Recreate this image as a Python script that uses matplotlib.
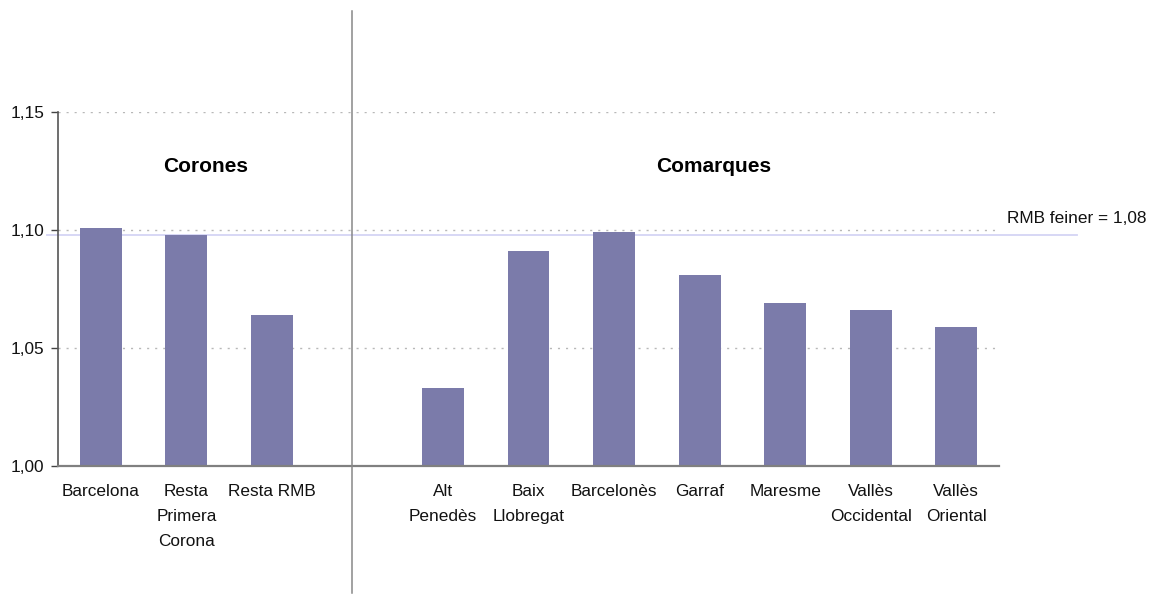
import matplotlib
matplotlib.use("Agg")
import matplotlib.pyplot as plt
import matplotlib.transforms as mtransforms
from matplotlib.lines import Line2D

plt.rcParams['font.family'] = ['Liberation Sans', 'DejaVu Sans']

# data
corones = ["Barcelona", "Resta\nPrimera\nCorona", "Resta RMB"]
corones_vals = [1.101, 1.098, 1.064]
comarques = ["Alt\nPenedès", "Baix\nLlobregat", "Barcelonès", "Garraf",
             "Maresme", "Vallès\nOccidental", "Vallès\nOriental"]
comarques_vals = [1.033, 1.091, 1.099, 1.081, 1.069, 1.066, 1.059]
rmb_value = 1.098
rmb_label = "RMB feiner = 1,08"
yticks = [1.00, 1.05, 1.10, 1.15]

bar_color = "#7b7baa"

# one empty slot between the two groups
x_cor = list(range(len(corones)))
x_com = [len(corones) + 1 + i for i in range(len(comarques))]

fig = plt.figure(figsize=(11.63, 5.96), dpi=100)
ax = fig.add_axes([0.0499, 0.2186, 0.8091, 0.593])

ax.bar(x_cor, corones_vals, width=0.49, color=bar_color, zorder=3)
ax.bar(x_com, comarques_vals, width=0.49, color=bar_color, zorder=3)

ax.set_xlim(-0.5, x_com[-1] + 0.5)
ax.set_ylim(1.00, 1.15)
ax.set_yticks(yticks)
ax.set_yticklabels([f"{t:.2f}".replace(".", ",") for t in yticks])
ax.set_xticks(x_cor + x_com)
ax.set_xticklabels(corones + comarques, linespacing=1.85, va="top")

ax.tick_params(axis="x", length=0, pad=13, labelsize=12.4, colors="#111111")
ax.tick_params(axis="y", length=5, width=1, pad=5, labelsize=12.4,
               color="#444444", labelcolor="#111111")

for s in ["top", "right"]:
    ax.spines[s].set_visible(False)
ax.spines["left"].set_color("#555555")
ax.spines["left"].set_linewidth(1.2)
ax.spines["bottom"].set_color("#808080")
ax.spines["bottom"].set_linewidth(1.6)
ax.spines["bottom"].set_zorder(4)

ax.yaxis.grid(True, linestyle=(0, (1.5, 4.3)), color="#b8b8b8", linewidth=1.0)
ax.set_axisbelow(True)

# reference line for the whole RMB
trans = mtransforms.blended_transform_factory(ax.transAxes, ax.transData)
ax.plot([-0.012, 1.083], [rmb_value, rmb_value], transform=trans,
        color="#d4d4f4", linewidth=1.3, clip_on=False, zorder=2)
ax.text(1.009, 1.1048, rmb_label, transform=trans, fontsize=12.4,
        color="#111111", ha="left", va="center")

# group titles
ax.text(1.22, 1.1268, "Corones", fontsize=15, fontweight="bold",
        ha="center", va="center")
ax.text(7.16, 1.1272, "Comarques", fontsize=15, fontweight="bold",
        ha="center", va="center")

# separator between groups
sep_x = 351.5 / 1163
fig.add_artist(Line2D([sep_x, sep_x], [1 - 11 / 596, 1 - 593 / 596],
                      transform=fig.transFigure, color="#888888",
                      linewidth=1.1))

fig.savefig("out.png", dpi=100, facecolor="white")
